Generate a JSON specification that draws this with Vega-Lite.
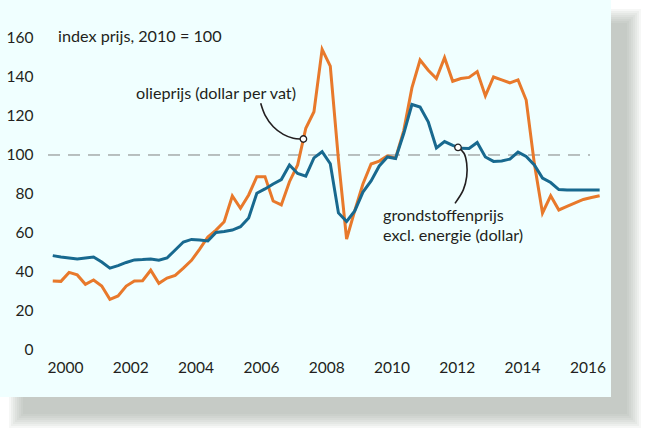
{
  "$schema": "https://vega.github.io/schema/vega-lite/v6.json",
  "width": 611,
  "height": 397,
  "padding": 0,
  "background": "white",
  "config": {
    "font": "Lato",
    "view": {"stroke": null}
  },
  "datasets": {
    "reeks": [
      {"t":2000.125,"olie":35.4,"grond":48.4},
      {"t":2000.375,"olie":35.2,"grond":47.7},
      {"t":2000.625,"olie":39.8,"grond":47.2},
      {"t":2000.875,"olie":38.5,"grond":46.7},
      {"t":2001.125,"olie":33.7,"grond":47.2},
      {"t":2001.375,"olie":35.9,"grond":47.7},
      {"t":2001.625,"olie":32.8,"grond":45.1},
      {"t":2001.875,"olie":26.0,"grond":42.0},
      {"t":2002.125,"olie":27.7,"grond":43.3},
      {"t":2002.375,"olie":32.8,"grond":44.9},
      {"t":2002.625,"olie":35.4,"grond":46.2},
      {"t":2002.875,"olie":35.5,"grond":46.4},
      {"t":2003.125,"olie":40.9,"grond":46.7},
      {"t":2003.375,"olie":34.2,"grond":46.0},
      {"t":2003.625,"olie":36.9,"grond":47.2},
      {"t":2003.875,"olie":38.3,"grond":51.3},
      {"t":2004.125,"olie":42.0,"grond":55.4},
      {"t":2004.375,"olie":46.0,"grond":56.7},
      {"t":2004.625,"olie":51.7,"grond":56.4},
      {"t":2004.875,"olie":58.0,"grond":55.9},
      {"t":2005.125,"olie":61.5,"grond":60.3},
      {"t":2005.375,"olie":65.8,"grond":60.8},
      {"t":2005.625,"olie":79.0,"grond":61.5},
      {"t":2005.875,"olie":72.7,"grond":63.2},
      {"t":2006.125,"olie":79.5,"grond":67.7},
      {"t":2006.375,"olie":88.9,"grond":80.4},
      {"t":2006.625,"olie":88.9,"grond":82.6},
      {"t":2006.875,"olie":76.4,"grond":85.1},
      {"t":2007.125,"olie":74.4,"grond":87.4},
      {"t":2007.375,"olie":86.3,"grond":94.9},
      {"t":2007.625,"olie":94.9,"grond":90.5},
      {"t":2007.875,"olie":113.7,"grond":89.2},
      {"t":2008.125,"olie":122.2,"grond":98.5},
      {"t":2008.375,"olie":154.2,"grond":101.7},
      {"t":2008.625,"olie":145.6,"grond":95.5},
      {"t":2008.875,"olie":97.6,"grond":70.3},
      {"t":2009.125,"olie":56.9,"grond":65.9},
      {"t":2009.375,"olie":71.5,"grond":71.3},
      {"t":2009.625,"olie":85.1,"grond":81.0},
      {"t":2009.875,"olie":95.4,"grond":86.7},
      {"t":2010.125,"olie":96.9,"grond":94.4},
      {"t":2010.375,"olie":99.5,"grond":99.0},
      {"t":2010.625,"olie":98.4,"grond":98.2},
      {"t":2010.875,"olie":112.5,"grond":111.0},
      {"t":2011.125,"olie":134.4,"grond":125.9},
      {"t":2011.375,"olie":148.7,"grond":124.6},
      {"t":2011.625,"olie":143.5,"grond":117.0},
      {"t":2011.875,"olie":139.2,"grond":103.6},
      {"t":2012.125,"olie":149.9,"grond":106.9},
      {"t":2012.375,"olie":137.8,"grond":104.9},
      {"t":2012.625,"olie":139.2,"grond":103.4},
      {"t":2012.875,"olie":139.8,"grond":103.3},
      {"t":2013.125,"olie":142.8,"grond":106.4},
      {"t":2013.375,"olie":130.3,"grond":99.0},
      {"t":2013.625,"olie":140.0,"grond":96.7},
      {"t":2013.875,"olie":138.5,"grond":96.9},
      {"t":2014.125,"olie":137.0,"grond":97.9},
      {"t":2014.375,"olie":138.5,"grond":101.5},
      {"t":2014.625,"olie":128.2,"grond":99.3},
      {"t":2014.875,"olie":95.6,"grond":94.9},
      {"t":2015.125,"olie":70.3,"grond":88.2},
      {"t":2015.375,"olie":79.1,"grond":85.9},
      {"t":2015.625,"olie":71.8,"grond":82.3},
      {"t":2015.875,"olie":73.6,"grond":82.0},
      {"t":2016.125,"olie":75.4,"grond":82.0},
      {"t":2016.375,"olie":77.2,"grond":82.0},
      {"t":2016.625,"olie":78.2,"grond":82.0},
      {"t":2016.875,"olie":79.1,"grond":82.0}
    ],
    "schaduw": [
      {"t":1998.7848,"t2":2018.1417,"v":174.872,"v2":-40.000},
      {"t":1998.8461,"t2":2018.0805,"v":173.846,"v2":-38.974},
      {"t":1998.9074,"t2":2018.0193,"v":172.820,"v2":-37.949},
      {"t":1998.9686,"t2":2017.9580,"v":171.795,"v2":-36.923},
      {"t":1999.0299,"t2":2017.8968,"v":170.769,"v2":-35.897},
      {"t":1999.0911,"t2":2017.8355,"v":169.744,"v2":-34.872},
      {"t":1999.1524,"t2":2017.7742,"v":168.718,"v2":-33.846},
      {"t":1999.2136,"t2":2017.7130,"v":167.692,"v2":-32.821}
    ],
    "paneel": [
      {"t":1998.50919,"t2":2017.22282,"v":179.487,"v2":-24.103}
    ],
    "referentie": [
      {"t":1999.98,"t2":2016.58,"v":100}
    ],
    "verwijzing": [
      {"id":"a","k":0,"t":2006.494,"v":126.5},
      {"id":"a","k":1,"t":2006.626,"v":120.5},
      {"id":"a","k":2,"t":2006.880,"v":114.5},
      {"id":"a","k":3,"t":2007.186,"v":110.6},
      {"id":"a","k":4,"t":2007.492,"v":108.6},
      {"id":"a","k":5,"t":2007.700,"v":108.2},
      {"id":"b","k":0,"t":2012.537,"v":103.9},
      {"id":"b","k":1,"t":2012.720,"v":100.9},
      {"id":"b","k":2,"t":2012.803,"v":95.7},
      {"id":"b","k":3,"t":2012.803,"v":88.9},
      {"id":"b","k":4,"t":2012.699,"v":82.1},
      {"id":"b","k":5,"t":2012.445,"v":75.2}
    ],
    "punten": [
      {"t":2007.802,"v":108.2},
      {"t":2012.537,"v":103.9}
    ],
    "tekst_links": [
      {"t":2000.286,"v":160.5,"label":"index prijs, 2010 = 100"},
      {"t":2010.24,"v":68.7,"label":"grondstoffenprijs"},
      {"t":2010.24,"v":58.5,"label":"excl. energie (dollar)"}
    ],
    "tekst_midden": [
      {"t":2005.125,"v":131.3,"label":"olieprijs (dollar per vat)"}
    ]
  },
  "encoding": {
    "x": {
      "field": "t",
      "type": "quantitative",
      "scale": {"domain": [1998.50919, 2017.22282], "nice": false, "zero": false},
      "axis": {
        "title": null,
        "values": [2000.5, 2002.5, 2004.5, 2006.5, 2008.5, 2010.5, 2012.5, 2014.5, 2016.5],
        "labelExpr": "'' + floor(datum.value)",
        "grid": false,
        "domain": false,
        "ticks": false,
        "tickSize": 0,
        "labelPadding": -37,
        "labelFontSize": 15.5,
        "labelColor": "#231f20",
        "labelFlush": false,
        "labelOverlap": false,
        "zindex": 1
      }
    },
    "y": {
      "field": "v",
      "type": "quantitative",
      "scale": {"domain": [-24.103, 179.487], "nice": false, "zero": false},
      "axis": {
        "title": null,
        "values": [0, 20, 40, 60, 80, 100, 120, 140, 160],
        "grid": false,
        "domain": false,
        "ticks": false,
        "tickSize": 0,
        "labelPadding": -33,
        "labelFontSize": 15.5,
        "labelColor": "#231f20",
        "labelFlush": false,
        "labelOverlap": false,
        "zindex": 1
      }
    }
  },
  "layer": [
    {
      "data": {"name": "schaduw"},
      "mark": {"type": "rect", "fill": "#8f938f", "opacity": 0.08},
      "encoding": {"x2": {"field": "t2"}, "y2": {"field": "v2"}}
    },
    {
      "data": {"name": "paneel"},
      "mark": {"type": "rect", "fill": "#f0ffff"},
      "encoding": {"x2": {"field": "t2"}, "y2": {"field": "v2"}}
    },
    {
      "data": {"name": "referentie"},
      "mark": {"type": "rule", "stroke": "#808080", "strokeWidth": 1, "strokeDash": [12, 8]},
      "encoding": {"x2": {"field": "t2"}}
    },
    {
      "data": {"name": "reeks"},
      "transform": [
        {"fold": ["olie", "grond"], "as": ["serie", "v"]},
        {"filter": "datum.serie == 'olie'"}
      ],
      "mark": {"type": "line", "stroke": "#e8792b", "strokeWidth": 3},
      "encoding": {}
    },
    {
      "data": {"name": "reeks"},
      "transform": [
        {"fold": ["olie", "grond"], "as": ["serie", "v"]},
        {"filter": "datum.serie == 'grond'"}
      ],
      "mark": {"type": "line", "stroke": "#18698f", "strokeWidth": 3},
      "encoding": {}
    },
    {
      "data": {"name": "verwijzing"},
      "mark": {"type": "line", "stroke": "#231f20", "strokeWidth": 1.6, "interpolate": "catmull-rom"},
      "encoding": {
        "detail": {"field": "id"},
        "order": {"field": "k", "type": "quantitative"}
      }
    },
    {
      "data": {"name": "punten"},
      "mark": {"type": "point", "filled": true, "fill": "white", "stroke": "#231f20", "strokeWidth": 1.3, "size": 42, "opacity": 1},
      "encoding": {}
    },
    {
      "data": {"name": "tekst_links"},
      "mark": {"type": "text", "align": "left", "baseline": "middle", "fontSize": 16.2, "color": "#231f20"},
      "encoding": {"text": {"field": "label"}}
    },
    {
      "data": {"name": "tekst_midden"},
      "mark": {"type": "text", "align": "center", "baseline": "middle", "fontSize": 16.2, "color": "#231f20"},
      "encoding": {"text": {"field": "label"}}
    }
  ]
}
